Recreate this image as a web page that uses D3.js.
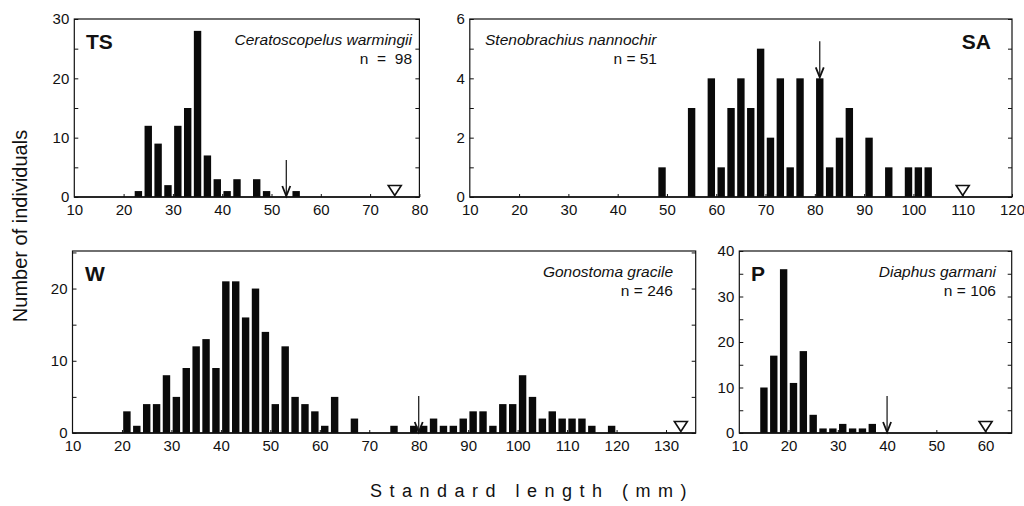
<!DOCTYPE html>
<html>
<head>
<meta charset="utf-8">
<script src="https://cdn.jsdelivr.net/npm/d3@7"></script>
<style>
  body { margin: 0; background: #fff; }
  svg { display: block; font-family: "Liberation Sans", Arial, Helvetica, sans-serif; }
  .tick text { font-size: 15px; fill: #111; }
  .domain { display: none; }
  .tick line { stroke: #111; stroke-width: 1; }
</style>
</head>
<body>
<div id="chart"></div>
<script>
//length classes (mm, bin centres) and counts
var tsLength = [23, 25, 27, 29, 31, 33, 35, 37, 39, 41, 43, 47, 49, 55];
var tsCount  = [1, 12, 9, 2, 12, 15, 28, 7, 3, 1, 3, 3, 1, 1];

var saLength = [49, 55, 59, 61, 63, 65, 67, 69, 71, 73, 75, 77, 81, 83, 85, 87, 91, 95, 99, 101, 103];
var saCount  = [1, 3, 4, 1, 3, 4, 3, 5, 2, 4, 1, 4, 4, 1, 2, 3, 2, 1, 1, 1, 1];

var wLength = [21, 23, 25, 27, 29, 31, 33, 35, 37, 39, 41, 43, 45, 47, 49, 51, 53, 55, 57, 59, 61, 63, 67,
               75, 79, 81, 83, 85, 87, 89, 91, 93, 95, 97, 99, 101, 103, 105, 107, 109, 111, 113, 115, 119];
var wCount  = [3, 1, 4, 4, 8, 5, 9, 12, 13, 9, 21, 21, 16, 20, 14, 4, 12, 5, 4, 3, 1, 5, 2,
               1, 1, 1, 2, 1, 1, 2, 3, 3, 1, 4, 4, 8, 5, 2, 3, 2, 2, 2, 1, 1];

var pLength = [15, 17, 19, 21, 23, 25, 27, 29, 31, 33, 35, 37];
var pCount  = [10, 17, 36, 11, 18, 4, 1, 1, 2, 1, 1, 2];

//arrow (length, count at its tip) and open triangle (length) per panel
var arrows    = {TS: [53, 0], SA: [81, 4], W: [80, 0], P: [40, 0]};
var triangles = {TS: 75, SA: 110, W: 133, P: 60};

//tick labels
var xTicksTS = d3.range(10, 81, 10);
var xTicksSA = d3.range(10, 121, 10);
var xTicksW  = d3.range(10, 131, 10);
var xTicksP  = d3.range(10, 61, 10);

var yTicksTS = [0, 10, 20, 30];
var yTicksSA = [0, 2, 4, 6];
var yTicksW  = [0, 10, 20];
var yTicksP  = [0, 10, 20, 30, 40];

var species = {TS: "Ceratoscopelus warmingii", SA: "Stenobrachius nannochir",
               W: "Gonostoma gracile", P: "Diaphus garmani"};
var nLabel  = {TS: "n  =  98", SA: "n = 51", W: "n = 246", P: "n = 106"};

var W_ = 1024, H_ = 506;
var barW = 1.5; //mm

var svg = d3.select("#chart").append("svg")
  .attr("width", W_).attr("height", H_);

//panel layout (pixels)
var panels = [
  {key: "TS", lens: tsLength, counts: tsCount, xd: [10, 80], xr: [74.3, 419.4], yd: [0, 30], yr: [197, 19],
   xt: xTicksTS, yt: yTicksTS, minor: 5, codeX: 86, codeAnchor: "start", spX: 412, spAnchor: "end", nX: 412, top: 19},
  {key: "SA", lens: saLength, counts: saCount, xd: [10, 120], xr: [469.8, 1012], yd: [0, 6], yr: [197, 19],
   xt: xTicksSA, yt: yTicksSA, minor: 1, codeX: 991, codeAnchor: "end", spX: 485, spAnchor: "start", nX: 657, top: 19},
  {key: "W", lens: wLength, counts: wCount, xd: [10, 136], xr: [72.5, 695.7], yd: [0, 25.2], yr: [433, 251],
   xt: xTicksW, yt: yTicksW, minor: 5, codeX: 85, codeAnchor: "start", spX: 673, spAnchor: "end", nX: 673, top: 251},
  {key: "P", lens: pLength, counts: pCount, xd: [10, 65.3], xr: [739.3, 1011.7], yd: [0, 40], yr: [433, 251],
   xt: xTicksP, yt: yTicksP, minor: 5, codeX: 751, codeAnchor: "start", spX: 996, spAnchor: "end", nX: 996, top: 251}
];

panels.forEach(function(p) {
  var x = d3.scaleLinear().domain(p.xd).range(p.xr);
  var y = d3.scaleLinear().domain(p.yd).range(p.yr);
  var g = svg.append("g");

  //bars
  var data = p.lens.map(function(l, i) { return {len: l, n: p.counts[i]}; });
  g.selectAll(".bar").data(data).enter().append("rect")
    .attr("class", "bar")
    .attr("x", function(d) { return x(d.len - barW / 2); })
    .attr("width", function(d) { return x(d.len + barW / 2) - x(d.len - barW / 2); })
    .attr("y", function(d) { return y(d.n); })
    .attr("height", function(d) { return y(0) - y(d.n); })
    .attr("fill", "#0a0a0a");

  //frame
  g.append("rect")
    .attr("x", p.xr[0]).attr("y", p.yr[1])
    .attr("width", p.xr[1] - p.xr[0]).attr("height", p.yr[0] - p.yr[1])
    .attr("fill", "none").attr("stroke", "#111").attr("stroke-width", 1.2);
  g.append("line")
    .attr("x1", p.xr[0]).attr("x2", p.xr[1]).attr("y1", p.yr[0]).attr("y2", p.yr[0])
    .attr("stroke", "#111").attr("stroke-width", 1.6);

  //y axes: labels + inward ticks on both sides
  var minorVals = d3.range(p.yd[0], p.yd[1] + 0.001, p.minor);
  g.append("g").attr("transform", "translate(" + p.xr[0] + ",0)")
    .call(d3.axisLeft(y).tickValues(p.yt).tickFormat(d3.format("d"))
      .tickSizeInner(0).tickSizeOuter(0).tickPadding(5));
  g.append("g").attr("transform", "translate(" + p.xr[0] + ",0)")
    .call(d3.axisLeft(y).tickValues(minorVals).tickSizeInner(-4).tickSizeOuter(0).tickFormat(""));
  g.append("g").attr("transform", "translate(" + p.xr[1] + ",0)")
    .call(d3.axisRight(y).tickValues(minorVals).tickSizeInner(-4).tickSizeOuter(0).tickFormat(""));

  //x axis with small inward ticks
  g.append("g").attr("transform", "translate(0," + p.yr[0] + ")")
    .call(d3.axisBottom(x).tickValues(p.xt).tickSizeInner(0).tickSizeOuter(0).tickPadding(7));
  g.append("g").attr("transform", "translate(0," + p.yr[0] + ")")
    .call(d3.axisBottom(x).tickValues(p.xt.slice(1)).tickSizeInner(-3).tickSizeOuter(0).tickFormat(""));

  //arrow
  var a = arrows[p.key];
  var ax = x(a[0]), ay = y(a[1]) - 1;
  g.append("line")
    .attr("x1", ax).attr("x2", ax).attr("y1", ay - 36).attr("y2", ay)
    .attr("stroke", "#111").attr("stroke-width", 1.2);
  g.append("path")
    .attr("d", "M" + (ax - 4) + "," + (ay - 10) + "L" + ax + "," + ay + "L" + (ax + 4) + "," + (ay - 10))
    .attr("fill", "none").attr("stroke", "#111").attr("stroke-width", 1.8);

  //triangle
  var tx = x(triangles[p.key]), ty = y(0) - 1.5;
  g.append("path")
    .attr("d", "M" + (tx - 6.5) + "," + (ty - 10) + "L" + (tx + 6.5) + "," + (ty - 10) + "L" + tx + "," + ty + "Z")
    .attr("fill", "#fff").attr("stroke", "#111").attr("stroke-width", 1.6);

  //panel code, species, n
  g.append("text")
    .attr("x", p.codeX).attr("y", p.top + 30)
    .attr("text-anchor", p.codeAnchor)
    .style("font-size", "21px").style("font-weight", "bold").attr("fill", "#111")
    .text(p.key);
  g.append("text")
    .attr("x", p.spX).attr("y", p.top + 26)
    .attr("text-anchor", p.spAnchor)
    .style("font-size", "15.5px").style("font-style", "italic").attr("fill", "#111")
    .text(species[p.key]);
  g.append("text")
    .attr("x", p.nX).attr("y", p.top + 45)
    .attr("text-anchor", "end")
    .style("font-size", "15.5px").style("white-space", "pre").attr("fill", "#111")
    .text(nLabel[p.key]);
});

//shared axis titles
svg.append("text")
  .attr("transform", "translate(27,226) rotate(-90)")
  .attr("text-anchor", "middle")
  .style("font-size", "20px").attr("fill", "#111")
  .text("Number of individuals");

svg.append("text")
  .attr("x", 532).attr("y", 497)
  .attr("text-anchor", "middle")
  .style("font-size", "18px").style("letter-spacing", "7.5px").attr("fill", "#111")
  .text("Standard length (mm)");
</script>
</body>
</html>
